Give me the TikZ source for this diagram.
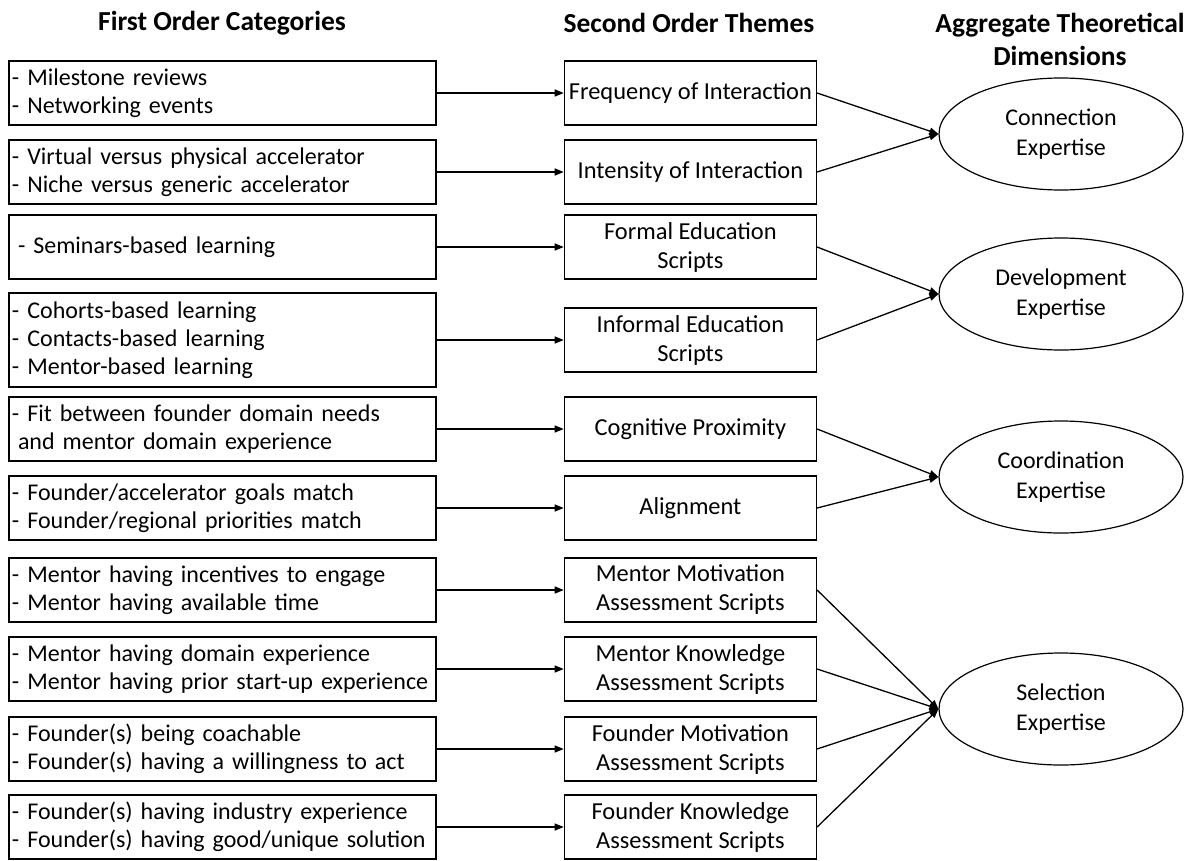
\documentclass[tikz,border=0pt]{standalone}
\usepackage{fontspec}
\setmainfont{Carlito}
\usetikzlibrary{positioning,shapes.geometric,arrows.meta}

\tikzset{
  catbox/.style={draw, line width=1.4pt, text width=421pt, align=left, inner xsep=3pt, inner ysep=0pt,
    minimum height=64pt, font=\fontsize{24}{28}\selectfont},
  themebox/.style={draw, line width=1.4pt, minimum width=252pt, minimum height=64pt, inner sep=0pt,
    align=center, font=\fontsize{24.4}{29}\selectfont},
  dimnode/.style={ellipse, draw, line width=1.2pt, minimum width=244pt, minimum height=112pt, inner sep=0pt,
    align=center, font=\fontsize{24}{30}\selectfont},
  head/.style={align=center, font=\bfseries\fontsize{27.5}{33}\selectfont},
  link/.style={-{Triangle[length=9pt,width=7pt]}, line width=1.3pt}
}

\begin{document}
\begin{tikzpicture}[x=1pt, y=-1pt, node distance=127pt]
	\useasboundingbox (0,0) rectangle (1188,860);
	% column headings
	\node(h1)[head] at (222,23){First Order Categories};
	\node(h2)[head] at (689,23){Second Order Themes};
	\node(h3)[head] at (1060,39){Aggregate Theoretical\\Dimensions};
	% first order categories
	\node(l1)[catbox] at (222.5,93){- Milestone reviews\\- Networking events};
	\node(l2)[catbox] at (222.5,172){- Virtual versus physical accelerator\\- Niche versus generic accelerator};
	\node(l3)[catbox] at (222.5,247){\hspace*{6pt}- Seminars-based learning};
	\node(l4)[catbox, minimum height=94pt] at (222.5,340){- Cohorts-based learning\\- Contacts-based learning\\- Mentor-based learning};
	\node(l5)[catbox] at (222.5,429){- Fit between founder domain needs\\\hspace*{6pt}and mentor domain experience};
	\node(l6)[catbox] at (222.5,508){- Founder/accelerator goals match\\- Founder/regional priorities match};
	\node(l7)[catbox] at (222.5,590){- Mentor having incentives to engage\\- Mentor having available time};
	\node(l8)[catbox] at (222.5,669){- Mentor having domain experience\\- Mentor having prior start-up experience};
	\node(l9)[catbox] at (222.5,749){- Founder(s) being coachable\\- Founder(s) having a willingness to act};
	\node(l10)[catbox] at (222.5,827){- Founder(s) having industry experience\\- Founder(s) having good/unique solution};
	% second order themes
	\node(m1)[themebox, right=of l1]{Frequency of Interaction};
	\node(m2)[themebox, right=of l2]{Intensity of Interaction};
	\node(m3)[themebox, right=of l3]{Formal Education\\Scripts};
	\node(m4)[themebox, right=of l4]{Informal Education\\Scripts};
	\node(m5)[themebox, right=of l5]{Cognitive Proximity};
	\node(m6)[themebox, right=of l6]{Alignment};
	\node(m7)[themebox, right=of l7]{Mentor Motivation\\Assessment Scripts};
	\node(m8)[themebox, right=of l8]{Mentor Knowledge\\Assessment Scripts};
	\node(m9)[themebox, right=of l9]{Founder Motivation\\Assessment Scripts};
	\node(m10)[themebox, right=of l10]{Founder Knowledge\\Assessment Scripts};
	% aggregate dimensions
	\node(d1)[dimnode] at (1061,134){Connection\\Expertise};
	\node(d2)[dimnode] at (1061,294){Development\\Expertise};
	\node(d3)[dimnode] at (1061,477){Coordination\\Expertise};
	\node(d4)[dimnode] at (1061,709){Selection\\Expertise};
	% categories to themes
	\draw[link](l1) to (m1);
	\draw[link](l2) to (m2);
	\draw[link](l3) to (m3);
	\draw[link](l4) to (m4);
	\draw[link](l5) to (m5);
	\draw[link](l6) to (m6);
	\draw[link](l7) to (m7);
	\draw[link](l8) to (m8);
	\draw[link](l9) to (m9);
	\draw[link](l10) to (m10);
	% themes to dimensions
	\draw[link](m1.east) to (d1.west);
	\draw[link](m2.east) to (d1.west);
	\draw[link](m3.east) to (d2.west);
	\draw[link](m4.east) to (d2.west);
	\draw[link](m5.east) to (d3.west);
	\draw[link](m6.east) to (d3.west);
	\draw[link](m7.east) to (d4.west);
	\draw[link](m8.east) to (d4.west);
	\draw[link](m9.east) to (d4.west);
	\draw[link](m10.east) to (d4.west);
\end{tikzpicture}
\end{document}
